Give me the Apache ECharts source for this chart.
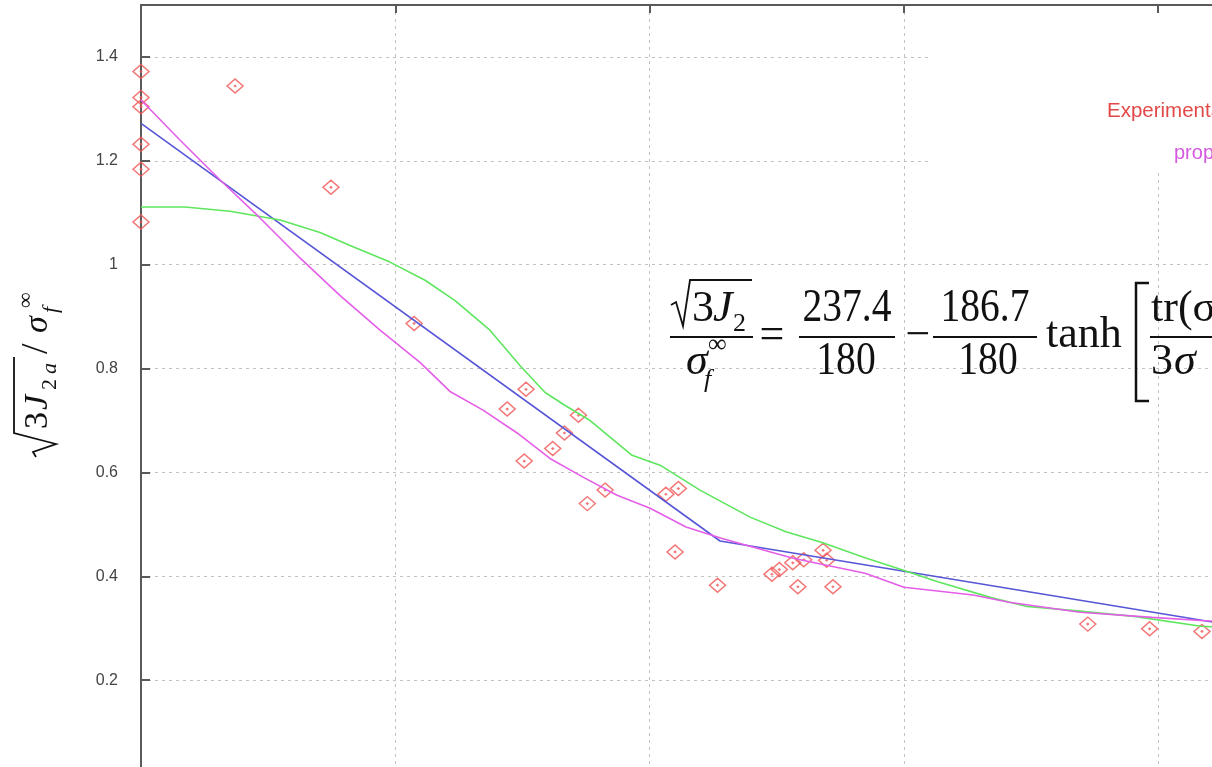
<!DOCTYPE html>
<html><head><meta charset="utf-8">
<script src="https://cdn.jsdelivr.net/npm/echarts@6/dist/echarts.min.js"></script>
<style>html,body{margin:0;padding:0;background:#fff;overflow:hidden}
#wrap{position:relative;width:1212px;height:767px;overflow:hidden}
#c{position:absolute;left:0;top:0;width:1300px;height:800px}</style>
</head><body><div id="wrap"><div id="c"></div></div>
<script>
// Experimental data (x in grid-interval units, y = sqrt(3J2)/sigma_f_inf)
const expX = [0,0,0,0,0,0,0.370,0.747,1.074,1.440,1.514,1.507,1.619,1.665,1.720,1.755,1.825,2.064,2.113,2.100,2.267,2.481,2.510,2.563,2.606,2.583,2.682,2.696,2.721,3.723,3.966,4.172];
const expY = [1.372,1.322,1.304,1.232,1.184,1.082,1.344,1.149,0.887,0.722,0.760,0.622,0.646,0.676,0.710,0.540,0.566,0.558,0.569,0.447,0.383,0.404,0.413,0.426,0.432,0.380,0.450,0.431,0.380,0.308,0.299,0.294];
// Bilinear model (blue)
const bilinX = [0, 2.277, 4.5];
const bilinY = [1.272, 0.468, 0.289];
// Model (green)
const greenX = [0,0.173,0.350,0.547,0.704,0.822,0.979,1.117,1.235,1.372,1.490,1.589,1.668,1.766,1.931,2.041,2.198,2.395,2.536,2.678,2.847,2.989,3.130,3.343,3.484,3.692,3.905,4.168,4.5];
const greenY = [1.111,1.111,1.103,1.086,1.062,1.037,1.005,0.970,0.931,0.874,0.806,0.754,0.729,0.700,0.633,0.614,0.566,0.514,0.486,0.465,0.436,0.413,0.390,0.359,0.342,0.333,0.323,0.304,0.296];
// Proposed model (magenta)
const propX = [0,0.153,0.311,0.468,0.625,0.782,0.940,1.097,1.215,1.345,1.479,1.608,1.738,1.872,2.002,2.143,2.285,2.564,2.847,3.000,3.272,3.413,3.692,3.976,4.168,4.5];
const propY = [1.317,1.240,1.163,1.090,1.013,0.941,0.874,0.812,0.756,0.720,0.676,0.627,0.591,0.556,0.531,0.495,0.473,0.435,0.406,0.379,0.364,0.350,0.331,0.321,0.315,0.306];
const seriesNames = ['Experimental data', 'Bilinear model', 'Tanh model', 'proposed model'];

const zip = (xs, ys) => xs.map((x, i) => [x, ys[i]]);
const SERIF = 'Liberation Serif';
function T(text, x, baseline, size, italic, extra) {
  return {
    type: 'text', x: x, y: baseline - 0.32 * size, z: 20,
    style: Object.assign({
      text: text, fontSize: size, fontFamily: SERIF, fontStyle: italic ? 'italic' : 'normal',
      fill: '#111', align: 'left', verticalAlign: 'middle', textAlign: 'left', textVerticalAlign: 'middle'
    }, extra || {})
  };
}
function P(points, w) {
  return { type: 'polyline', z: 20, shape: { points: points }, style: { stroke: '#111', lineWidth: w || 2, fill: null } };
}
function C(text, cx, baseline, size, sx) {
  const e = T(text, cx, baseline, size, false, { align: 'center', textAlign: 'center' });
  e.scaleX = sx || 1;
  return e;
}

const chart = echarts.init(document.getElementById('c'), null, { renderer: 'canvas' });

// y-axis title, built horizontally then rotated
const yTitle = {
  type: 'group', x: 0, y: 460, rotation: Math.PI / 2, z: 20,
  children: [
    P([[3, 36], [8, 33], [16, 56], [27, 14], [103, 14]], 1.8),
    T('3', 31, 49, 34, false),
    T('J', 50, 49, 34, true),
    T('2', 70, 57, 22, false),
    T('a', 86, 57, 22, true),
    T('/', 106, 49, 38, false),
    T('σ', 127, 49, 34, true),
    T('f', 147, 58, 22, true),
    T('∞', 152, 33, 22, false)
  ]
};

// formula
const formula = {
  type: 'group', x: 0, y: 0, z: 20,
  children: [
    P([[671, 305], [676, 302], [683, 326], [690, 280], [752, 280]], 1.8),
    T('3', 692, 324, 44, false),
    T('J', 713, 324, 44, true),
    T('2', 733, 332, 26, false),
    P([[670, 337], [753, 337]], 2),
    T('σ', 686, 377, 44, true),
    T('f', 704, 388, 26, true),
    T('∞', 708, 353, 26, false),
    C('=', 772, 351, 44, 1),
    C('237.4', 847, 324, 46, 0.86),
    P([[799, 337], [895, 337]], 2),
    C('180', 846, 377, 46, 0.86),
    C('−', 918, 351, 44, 1),
    C('186.7', 985, 324, 46, 0.86),
    P([[933, 337], [1037, 337]], 2),
    C('180', 988, 377, 46, 0.86),
    T('tanh', 1046, 350, 44, false),
    P([[1149, 283], [1136, 283], [1136, 401], [1149, 401]], 2.5),
    T('tr(σ)', 1151, 324, 44, false),
    P([[1150, 337], [1240, 337]], 2),
    T('3', 1151, 377, 44, false),
    T('σ', 1174, 377, 44, true)
  ]
};

const legendBox = [
  { type: 'rect', z: 15, shape: { x: 932, y: 13, width: 400, height: 160 }, style: { fill: '#fff' } },
  { type: 'text', z: 16, x: 1107, y: 111, style: { text: 'Experimental data', fontSize: 20.5, fontFamily: 'Liberation Sans', fill: '#e24848', align: 'left', verticalAlign: 'middle', textAlign: 'left', textVerticalAlign: 'middle' } },
  { type: 'text', z: 16, x: 1174, y: 153, style: { text: 'proposed model', fontSize: 20, fontFamily: 'Liberation Sans', fill: '#d459de', align: 'left', verticalAlign: 'middle', textAlign: 'left', textVerticalAlign: 'middle' } }
];

const gridLine = { color: '#c2c2c2', type: [3, 4], width: 1 };
const axisCol = '#5a5a5a';

chart.setOption({
  animation: false,
  backgroundColor: '#fff',
  grid: { left: 141, top: 5, width: 1144.4, height: 779.1, containLabel: false },
  xAxis: [
    { type: 'value', min: 0, max: 4.5, interval: 1, position: 'bottom',
      axisLine: { show: true, lineStyle: { color: axisCol, width: 2 } },
      axisTick: { inside: true, length: 8, lineStyle: { color: axisCol, width: 2 } },
      axisLabel: { show: false }, splitLine: { show: true, lineStyle: gridLine } },
    { type: 'value', min: 0, max: 4.5, interval: 1, position: 'top',
      axisLine: { show: true, lineStyle: { color: axisCol, width: 2 } },
      axisTick: { inside: true, length: 8, lineStyle: { color: axisCol, width: 2 } },
      axisLabel: { show: false }, splitLine: { show: false } }
  ],
  yAxis: { type: 'value', min: 0, max: 1.5, interval: 0.2,
    axisLine: { show: true, lineStyle: { color: axisCol, width: 2 } },
    axisTick: { inside: true, length: 9, lineStyle: { color: axisCol, width: 2 } },
    axisLabel: { margin: 23, color: '#444', fontSize: 16, fontFamily: 'Liberation Sans', showMaxLabel: false, showMinLabel: false },
    splitLine: { show: true, lineStyle: gridLine } },
  series: [
    { name: seriesNames[0], type: 'scatter', data: zip(expX, expY), z: 3,
      symbol: 'path://M0,-7L7,0L0,7L-7,0Z M0,-0.6L0.6,0L0,0.6L-0.6,0Z', symbolSize: [16, 14],
      itemStyle: { color: 'rgba(0,0,0,0)', borderColor: '#f05555', borderWidth: 1.5 } },
    { name: seriesNames[1], type: 'line', data: zip(bilinX, bilinY), showSymbol: false, z: 4,
      lineStyle: { color: '#5656d6', width: 1.6 } },
    { name: seriesNames[2], type: 'line', data: zip(greenX, greenY), showSymbol: false, z: 4,
      lineStyle: { color: '#5ee65e', width: 1.6 } },
    { name: seriesNames[3], type: 'line', data: zip(propX, propY), showSymbol: false, z: 4,
      lineStyle: { color: '#e45ee8', width: 1.6 } }
  ],
  graphic: [yTitle, formula].concat(legendBox)
});
</script></body></html>
